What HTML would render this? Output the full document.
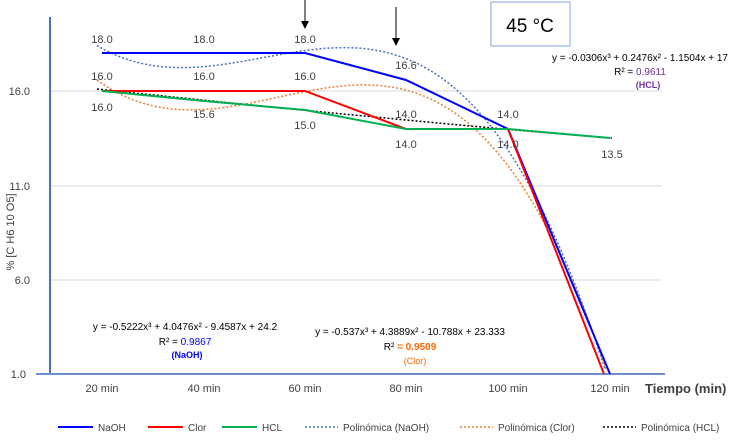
<!DOCTYPE html><html><head><style>body{margin:0;background:#fff}svg{font-family:"Liberation Sans",sans-serif}</style></head><body>
<svg id="s" width="741" height="435" xmlns="http://www.w3.org/2000/svg">
<line x1="50" y1="91" x2="662" y2="91" stroke="#d9d9d9"/>
<line x1="50" y1="186" x2="662" y2="186" stroke="#d9d9d9"/>
<line x1="50" y1="280" x2="662" y2="280" stroke="#d9d9d9"/>
<line x1="50" y1="17" x2="50" y2="374" stroke="#4472c4" stroke-width="2"/>
<line x1="36" y1="374" x2="665" y2="374" stroke="#6f8fd0" stroke-width="2"/>
<g font-size="11" fill="#404040" text-anchor="end"><text x="30" y="95">16.0</text><text x="30" y="190">11.0</text><text x="30" y="284">6.0</text><text x="26" y="378">1.0</text></g>
<text transform="translate(14,232) rotate(-90)" font-size="11" fill="#404040" text-anchor="middle">% [C H6 10 O5]</text>
<g font-size="11" fill="#404040" text-anchor="middle"><text x="102" y="392">20 min</text><text x="204" y="392">40 min</text><text x="305" y="392">60 min</text><text x="406" y="392">80 min</text><text x="508" y="392">100 min</text><text x="610" y="392">120 min</text></g>
<text x="645" y="393" font-size="13" font-weight="bold" fill="#404040">Tiempo (min)</text>
<g id="curves"></g>
<path d="M97,89 C200,100 300,110 406,120 S560,134 612,138" fill="none" stroke="#000" stroke-width="1.5" stroke-dasharray="2,2"/>
<polyline points="102,53 204,53 305,53 406,80 508,129 610,374" fill="none" stroke="#0000ff" stroke-width="2"/>
<polyline points="102,91 305,91 406,129 508,129 604,374" fill="none" stroke="#ff0000" stroke-width="2"/>
<polyline points="102,91 204,101 305,110 406,129 508,129 610,138" fill="none" stroke="#00b050" stroke-width="2"/>
<g font-size="11" fill="#404040" text-anchor="middle">
<text x="102" y="43">18.0</text><text x="204" y="43">18.0</text><text x="305" y="43">18.0</text>
<text x="102" y="80">16.0</text><text x="204" y="80">16.0</text><text x="305" y="80">16.0</text>
<text x="102" y="111">16.0</text><text x="204" y="118">15.6</text><text x="305" y="129">15.0</text>
<text x="406" y="69">16.6</text><text x="406" y="118">14.0</text><text x="508" y="118">14.0</text>
<text x="406" y="148">14.0</text><text x="508" y="148">14.0</text><text x="612" y="158">13.5</text></g>
<line x1="305" y1="0" x2="305" y2="24" stroke="#000"/><polygon points="301,21 309,21 305,29" fill="#000"/>
<line x1="396" y1="7" x2="396" y2="40" stroke="#000"/><polygon points="392,38 400,38 396,46" fill="#000"/>
<rect x="491" y="2" width="79" height="44" fill="#fff" stroke="#a9c4e8" stroke-width="1.5"/>
<text x="530" y="32" font-size="19" text-anchor="middle" fill="#000">45 °C</text>
<g font-size="10" text-anchor="middle" fill="#000">
<text x="640" y="61">y = -0.0306x³ + 0.2476x² - 1.1504x + 17</text>
<text x="640" y="75">R² = <tspan fill="#7030a0">0.9611</tspan></text>
<text x="648" y="88" fill="#7030a0" font-weight="bold" font-size="9">(HCL)</text>
<text x="185" y="330">y = -0.5222x³ + 4.0476x² - 9.4587x + 24.2</text>
<text x="185" y="345">R² = <tspan fill="#0000ff">0.9867</tspan></text>
<text x="187" y="358" fill="#0000ff" font-weight="bold" font-size="9">(NaOH)</text>
<text x="410" y="335">y = -0.537x³ + 4.3889x² - 10.788x + 23.333</text>
<text x="410" y="350">R² <tspan fill="#ff6600" font-weight="bold">= 0.9509</tspan></text>
<text x="415" y="364" fill="#ff6600" font-size="9">(Clor)</text></g>
<g font-size="10" fill="#404040">
<line x1="58" y1="427" x2="93" y2="427" stroke="#0000ff" stroke-width="2"/><text x="98" y="431">NaOH</text>
<line x1="148" y1="427" x2="183" y2="427" stroke="#ff0000" stroke-width="2"/><text x="188" y="431">Clor</text>
<line x1="222" y1="427" x2="257" y2="427" stroke="#00b050" stroke-width="2"/><text x="262" y="431">HCL</text>
<line x1="305" y1="427" x2="338" y2="427" stroke="#4472c4" stroke-width="1.5" stroke-dasharray="2,2"/><text x="343" y="431">Polinómica (NaOH)</text>
<line x1="460" y1="427" x2="493" y2="427" stroke="#ed7d31" stroke-width="1.5" stroke-dasharray="2,2"/><text x="498" y="431">Polinómica (Clor)</text>
<line x1="603" y1="427" x2="636" y2="427" stroke="#000" stroke-width="1.5" stroke-dasharray="2,2"/><text x="641" y="431">Polinómica (HCL)</text></g>
<script>
function P(a,b,c,d,col){let s="";for(let x=0.95;x<=6.02;x+=0.02){let v=a*x*x*x+b*x*x+c*x+d;let py=373-(v-1)*18.8;if(py>374)break;let px=102+(x-1)*101.6;s+=(s?"L":"M")+px.toFixed(1)+","+py.toFixed(1);}
let p=document.createElementNS("http://www.w3.org/2000/svg","path");p.setAttribute("d",s);p.setAttribute("fill","none");p.setAttribute("stroke",col);p.setAttribute("stroke-width","1.5");p.setAttribute("stroke-dasharray","2,2");document.getElementById("curves").appendChild(p);}
P(-0.5222,4.0476,-9.4587,24.2,"#4472c4");P(-0.537,4.3889,-10.788,23.333,"#ed7d31");
</script>
</svg></body></html>
